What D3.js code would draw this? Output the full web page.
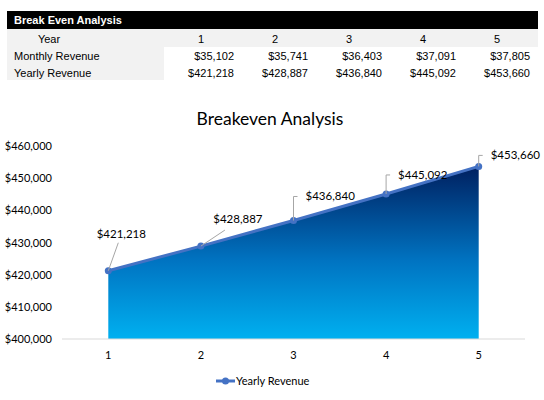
<!DOCTYPE html>
<html><head><meta charset="utf-8">
<script src="https://cdn.jsdelivr.net/npm/d3@7"></script>
<style>body{margin:0;background:#fff}svg{display:block}</style>
</head><body>
<script>
const years = [1, 2, 3, 4, 5];
const monthlyRevenue = [35102, 35741, 36403, 37091, 37805];
const yearlyRevenue = [421218, 428887, 436840, 445092, 453660];
const yTicks = [400000, 410000, 420000, 430000, 440000, 450000, 460000];
const tableTitle = "Break Even Analysis";
const chartTitle = "Breakeven Analysis";
const seriesName = "Yearly Revenue";

const W = 544, H = 400;
const svg = d3.select("body").append("svg").attr("width", W).attr("height", H);
const fmt = d3.format("$,");

// ---- table ----
const tf = "'Liberation Sans', Arial, sans-serif";
const tfs = 11;
svg.append("rect").attr("x", 7).attr("y", 11).attr("width", 531).attr("height", 18).attr("fill", "#000");
svg.append("text").attr("x", 14).attr("y", 24).attr("fill", "#fff").attr("font-family", tf)
  .attr("font-weight", "bold").attr("font-size", tfs).text(tableTitle);
svg.append("rect").attr("x", 7).attr("y", 29).attr("width", 531).attr("height", 18).attr("fill", "#f2f2f2");
svg.append("rect").attr("x", 7).attr("y", 47).attr("width", 157).attr("height", 33).attr("fill", "#f2f2f2");
const colX = d3.scaleBand().domain(years).range([164, 534]);
svg.append("text").attr("x", 49).attr("y", 43).attr("text-anchor", "middle").attr("font-family", tf)
  .attr("font-size", tfs).attr("fill", "#000").text("Year");
years.forEach((y) => {
  svg.append("text").attr("x", colX(y) + colX.bandwidth() / 2).attr("y", 43).attr("text-anchor", "middle")
    .attr("font-family", tf).attr("font-size", tfs).text(y);
});
const rows = [["Monthly Revenue", monthlyRevenue, 60], ["Yearly Revenue", yearlyRevenue, 77]];
rows.forEach(([label, vals, ty]) => {
  svg.append("text").attr("x", 14).attr("y", ty).attr("font-family", tf).attr("font-size", tfs).text(label);
  vals.forEach((v, i) => {
    svg.append("text").attr("x", colX(years[i]) + colX.bandwidth() - 4).attr("y", ty).attr("text-anchor", "end")
      .attr("font-family", tf).attr("font-size", tfs).text(fmt(v));
  });
});

// ---- chart ----
const cf = "Lato, 'Open Sans', sans-serif";
svg.append("text").attr("x", 270).attr("y", 125).attr("text-anchor", "middle").attr("font-family", cf)
  .attr("font-size", 17.5).attr("fill", "#000").text(chartTitle);

const x = d3.scaleBand().domain(years).range([62, 525]);
const cx = d => x(d) + x.bandwidth() / 2;
const y = d3.scaleLinear().domain([400000, 460000]).range([339, 146]);

svg.append("g").selectAll("text").data(yTicks).join("text")
  .attr("x", 52).attr("y", d => y(d) + 4).attr("text-anchor", "end").attr("font-family", cf)
  .attr("font-size", 11).attr("fill", "#000").text(d => fmt(d));

const data = years.map((yr, i) => ({ yr, v: yearlyRevenue[i] }));

const defs = svg.append("defs");
const grad = defs.append("linearGradient").attr("id", "g").attr("x1", 0).attr("y1", 0).attr("x2", 0).attr("y2", 1);
grad.append("stop").attr("offset", "0%").attr("stop-color", "#002060");
grad.append("stop").attr("offset", "55%").attr("stop-color", "#0074c2");
grad.append("stop").attr("offset", "100%").attr("stop-color", "#00b0f0");

const area = d3.area().x(d => cx(d.yr)).y0(y(400000)).y1(d => y(d.v));
svg.append("path").datum(data).attr("d", area).attr("fill", "url(#g)");

svg.append("line").attr("x1", 62).attr("x2", 525).attr("y1", y(400000)).attr("y2", y(400000))
  .attr("stroke", "#d9d9d9").attr("stroke-width", 1);
svg.append("g").selectAll("text").data(years).join("text")
  .attr("x", d => cx(d)).attr("y", 359).attr("text-anchor", "middle").attr("font-family", cf)
  .attr("font-size", 11).attr("fill", "#000").text(d => d);

const line = d3.line().x(d => cx(d.yr)).y(d => y(d.v));
svg.append("path").datum(data).attr("d", line).attr("fill", "none").attr("stroke", "#4472c4").attr("stroke-width", 3);
svg.append("g").selectAll("circle").data(data).join("circle")
  .attr("cx", d => cx(d.yr)).attr("cy", d => y(d.v)).attr("r", 3.5).attr("fill", "#4472c4");

const lab = [
  { dx: 13, dy: -37, lead: "diag", ex: 10, ey: -28 },
  { dx: 37, dy: -27, lead: "diag", ex: 24, ey: -16 },
  { dx: 35, dy: -24, lead: "elbow" },
  { dx: 34, dy: -19, lead: "elbow" },
  { dx: 35, dy: -11, lead: "elbow" }
];
data.forEach((d, i) => {
  const px = cx(d.yr), py = y(d.v), o = lab[i];
  let path;
  if (o.lead === "diag") path = `M${px},${py}L${px + o.ex},${py + o.ey}`;
  else path = `M${px},${py}V${py + o.dy}H${px + 4}`;
  svg.append("path").attr("d", path).attr("fill", "none").attr("stroke", "#a6a6a6").attr("stroke-width", 1);
  const tx = o.lead === "diag" ? px + o.dx : px + 12;
  svg.append("text").attr("x", tx).attr("y", py + o.dy + 4)
    .attr("text-anchor", o.lead === "diag" ? "middle" : "start")
    .attr("font-family", cf).attr("font-size", 11.5).attr("fill", "#000").text(fmt(d.v));
});

svg.append("line").attr("x1", 216).attr("x2", 235).attr("y1", 381).attr("y2", 381).attr("stroke", "#4472c4").attr("stroke-width", 3);
svg.append("circle").attr("cx", 225.5).attr("cy", 381).attr("r", 3.5).attr("fill", "#4472c4");
svg.append("text").attr("x", 236).attr("y", 385).attr("font-family", cf).attr("font-size", 11).attr("fill", "#000").text(seriesName);
</script>
</body></html>
